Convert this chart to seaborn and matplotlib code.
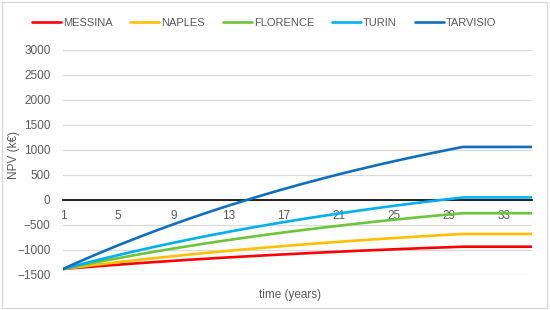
#NPV over time for five sites

import pandas as pd
import matplotlib.pyplot as plt
import seaborn as sns

#data
years = list(range(1, 36))
messina = [-1380, -1357, -1336, -1314, -1294, -1274, -1254, -1236, -1217, -1199,
           -1182, -1165, -1149, -1133, -1118, -1103, -1089, -1075, -1061, -1048,
           -1035, -1022, -1010, -999, -987, -976, -965, -955, -945, -935,
           -935, -935, -935, -935, -935]
naples = [-1380, -1345, -1310, -1277, -1244, -1213, -1182, -1153, -1124, -1096,
          -1069, -1042, -1017, -992, -968, -945, -922, -900, -878, -857,
          -837, -818, -799, -780, -762, -745, -728, -711, -695, -680,
          -680, -680, -680, -680, -680]
florence = [-1380, -1324, -1269, -1216, -1164, -1114, -1065, -1018, -972, -928,
            -884, -842, -802, -762, -724, -686, -650, -615, -581, -548,
            -516, -484, -454, -424, -396, -368, -341, -315, -290, -265,
            -265, -265, -265, -265, -265]
turin = [-1380, -1308, -1237, -1169, -1103, -1039, -976, -916, -857, -800,
         -744, -690, -638, -587, -538, -490, -444, -399, -355, -313,
         -271, -231, -192, -154, -118, -82, -48, -14, 18, 50,
         50, 50, 50, 50, 50]
tarvisio = [-1380, -1257, -1137, -1020, -907, -798, -691, -588, -487, -390,
            -295, -203, -114, -28, 56, 138, 217, 294, 369, 441,
            512, 580, 646, 711, 774, 834, 893, 950, 1006, 1060,
            1060, 1060, 1060, 1060, 1060]
sites = ["MESSINA", "NAPLES", "FLORENCE", "TURIN", "TARVISIO"]
colors = ["#FF0000", "#FFC000", "#6CC63A", "#00B0F0", "#0F6FBE"]
xticks = [1, 5, 9, 13, 17, 21, 25, 29, 33]
yticks = [-1500, -1000, -500, 0, 500, 1000, 1500, 2000, 2500, 3000]

rows = []
for name, vals in zip(sites, [messina, naples, florence, turin, tarvisio]):
    for yr, v in zip(years, vals):
        rows.append({"year": yr, "npv": v, "site": name})
df = pd.DataFrame(rows)

sns.set_style("white")
plt.rcParams['font.family'] = ['Liberation Sans', 'DejaVu Sans']
gray = "#595959"

fig = plt.figure(figsize=(5.5, 3.1), dpi=100)
ax = fig.add_axes([0.1145, 0.113, 0.8525, 0.726])

sns.lineplot(data=df, x="year", y="npv", hue="site", hue_order=sites,
             palette=colors, linewidth=1.9, ax=ax, zorder=3)

ax.set_xlim(1, 35)
ax.set_ylim(-1500, 3000)
ax.set_yticks(yticks)
ax.set_xticks(xticks)
ax.set_xticklabels([str(t) for t in xticks])
ax.grid(axis="y", color="#D9D9D9", linewidth=0.9)
ax.grid(axis="x", visible=False)

for s in ["top", "right", "left"]:
    ax.spines[s].set_visible(False)
ax.spines["bottom"].set_position(("data", 0))
ax.spines["bottom"].set_color("black")
ax.spines["bottom"].set_linewidth(1.2)
ax.spines["bottom"].set_zorder(2)
ax.tick_params(axis="both", length=0, labelsize=8.5, labelcolor=gray)
ax.tick_params(axis="x", pad=7)
ax.tick_params(axis="y", pad=9)

ax.set_xlabel("")
ax.set_ylabel("")
fig.text(0.527, 0.048, "time (years)", ha="center", va="center", fontsize=8.5, color=gray)
fig.text(0.026, 0.5, "NPV (k€)", ha="center", va="center", rotation=90, fontsize=8.5, color=gray)

ax.legend_.remove()
handles, labels = ax.get_legend_handles_labels()
fig.legend(handles, labels, loc="center", bbox_to_anchor=(0.48, 0.925), ncol=5,
           frameon=False, fontsize=8, labelcolor=gray, handlelength=2.6,
           handletextpad=0.2, columnspacing=1.6)

fig.patches.append(plt.Rectangle((0.004, 0.006), 0.99, 0.988, transform=fig.transFigure,
                                 fill=False, edgecolor="#D9D9D9", linewidth=1))

plt.savefig("out.png", dpi=100)
